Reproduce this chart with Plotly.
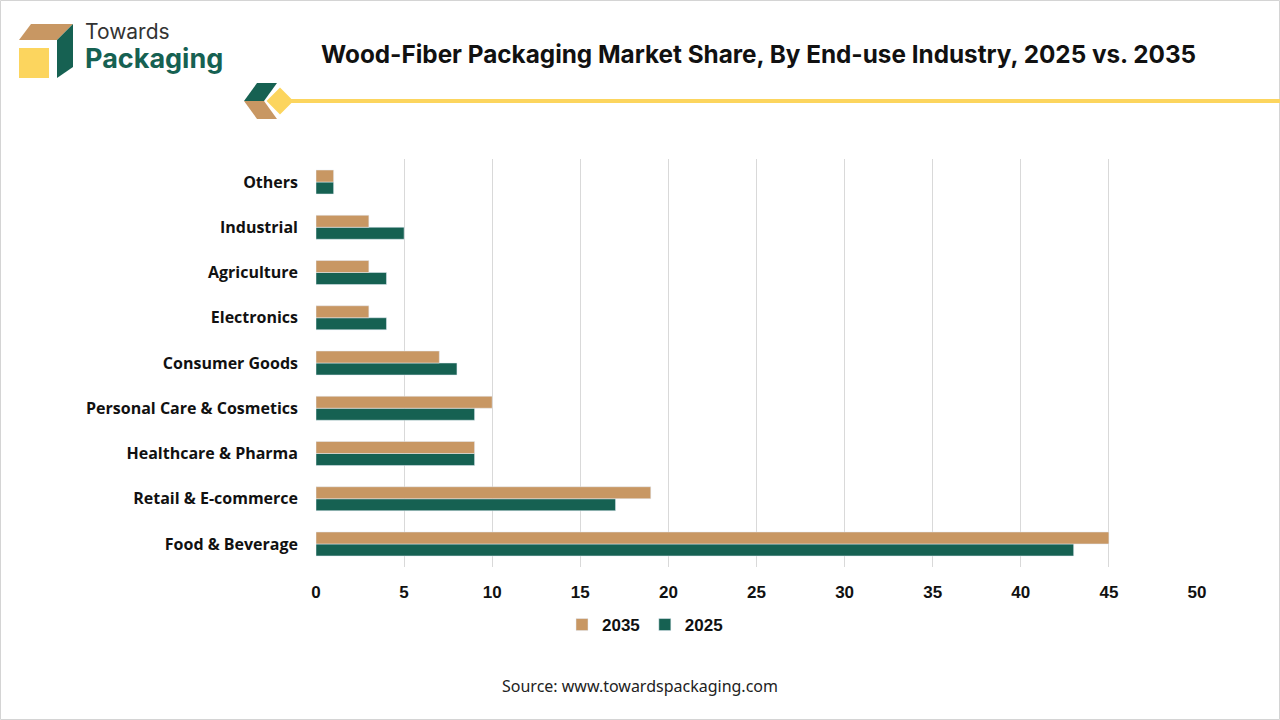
import plotly.graph_objects as go

W, H = 1280, 720

# data (bottom to top)
categories = [
    "Food & Beverage",
    "Retail & E-commerce",
    "Healthcare & Pharma",
    "Personal Care & Cosmetics",
    "Consumer Goods",
    "Electronics",
    "Agriculture",
    "Industrial",
    "Others",
]
share_2025 = [43, 17, 9, 9, 8, 4, 4, 5, 1]
share_2035 = [45, 19, 9, 10, 7, 3, 3, 3, 1]
x_ticks = [0, 5, 10, 15, 20, 25, 30, 35, 40, 45, 50]

TAN = "#C89763"
GREEN = "#166152"
YELLOW = "#FCD55E"


def px(x):
    return x / W


def py(y):
    return 1 - y / H


def path(points):
    return "M " + " L ".join(f"{px(x)},{py(y)}" for x, y in points) + " Z"


fig = go.Figure()

fig.add_trace(go.Bar(
    y=categories, x=share_2025, orientation="h", name="2025",
    marker=dict(color=GREEN), legendrank=2,
))
fig.add_trace(go.Bar(
    y=categories, x=share_2035, orientation="h", name="2035",
    marker=dict(color=TAN), legendrank=1,
))

shapes = [
    # outer border
    dict(type="rect", xref="paper", yref="paper", x0=px(0.5), x1=px(1279.5),
         y0=py(719.5), y1=py(0.5), line=dict(color="#d4d4d4", width=1)),
    # logo
    dict(type="path", xref="paper", yref="paper", path=path([(19, 48), (49, 48), (49, 78), (19, 78)]),
         fillcolor=YELLOW, line=dict(width=0)),
    dict(type="path", xref="paper", yref="paper", path=path([(19, 40), (31, 24), (73, 24), (57, 40)]),
         fillcolor=TAN, line=dict(width=0)),
    dict(type="path", xref="paper", yref="paper", path=path([(57, 40), (73, 24), (73, 67), (57, 78)]),
         fillcolor=GREEN, line=dict(width=0)),
    # header decoration
    dict(type="path", xref="paper", yref="paper", path=path([(244, 101), (257, 83), (277, 83), (264, 101)]),
         fillcolor=GREEN, line=dict(width=0)),
    dict(type="path", xref="paper", yref="paper", path=path([(244, 101), (264, 101), (277, 119), (257, 119)]),
         fillcolor=TAN, line=dict(width=0)),
    dict(type="line", xref="paper", yref="paper", x0=px(288), x1=px(1280), y0=py(101), y1=py(101),
         line=dict(color=YELLOW, width=4)),
    dict(type="path", xref="paper", yref="paper", path=path([(268, 101), (280, 89), (292, 101), (280, 113)]),
         fillcolor=YELLOW, line=dict(color=YELLOW, width=2)),
]

annotations = [
    dict(text="Wood-Fiber Packaging Market Share, By End-use Industry, 2025 vs. 2035",
         x=px(758), y=py(54), xref="paper", yref="paper", showarrow=False,
         xanchor="center", yanchor="middle",
         font=dict(family="Inter, Open Sans", size=24.3, color="#111111", weight="bold")),
    dict(text="Towards", x=px(83), y=py(32), xref="paper", yref="paper", showarrow=False,
         xanchor="left", yanchor="middle",
         font=dict(family="Inter, Open Sans", size=21, color="#333333")),
    dict(text="Packaging", x=px(83), y=py(58), xref="paper", yref="paper", showarrow=False,
         xanchor="left", yanchor="middle",
         font=dict(family="Inter, Open Sans", size=27, color=GREEN, weight="bold")),
    dict(text="Source: www.towardspackaging.com", x=px(640), y=py(686), xref="paper", yref="paper",
         showarrow=False, xanchor="center", yanchor="middle",
         font=dict(family="Noto Sans, Open Sans", size=16, color="#222222")),
]

fig.update_layout(
    width=W, height=H,
    margin=dict(l=0, r=0, t=0, b=0, pad=0),
    paper_bgcolor="white", plot_bgcolor="white",
    barmode="group", bargap=0.47, bargroupgap=0,
    shapes=shapes, annotations=annotations,
    legend=dict(orientation="h", x=px(645), y=py(625), xanchor="center", yanchor="middle",
                font=dict(family="Liberation Sans, Arial", size=17, color="#111111", weight="bold")),
    xaxis=dict(
        domain=[px(316), px(1197)], range=[0, 50], tickvals=x_ticks,
        showgrid=True, gridcolor="#d9d9d9", gridwidth=1, zeroline=False,
        showline=False, ticks="", ticklabelstandoff=13, automargin=False,
        tickfont=dict(family="Liberation Sans, Arial", size=17, color="#111111", weight="bold"),
    ),
    yaxis=dict(
        domain=[py(566.6), py(159.4)], type="category", automargin=False,
        showgrid=False, zeroline=False, showline=False, ticks="", ticklabelstandoff=17,
        tickfont=dict(family="Open Sans", size=16, color="#111111", weight="bold"),
    ),
)

# drop the page's default body margin so the figure fills the window
fig.write_html(
    "out.html",
    config={"displayModeBar": False},
    post_script="document.body.style.margin='0';document.body.style.overflow='hidden';",
)
